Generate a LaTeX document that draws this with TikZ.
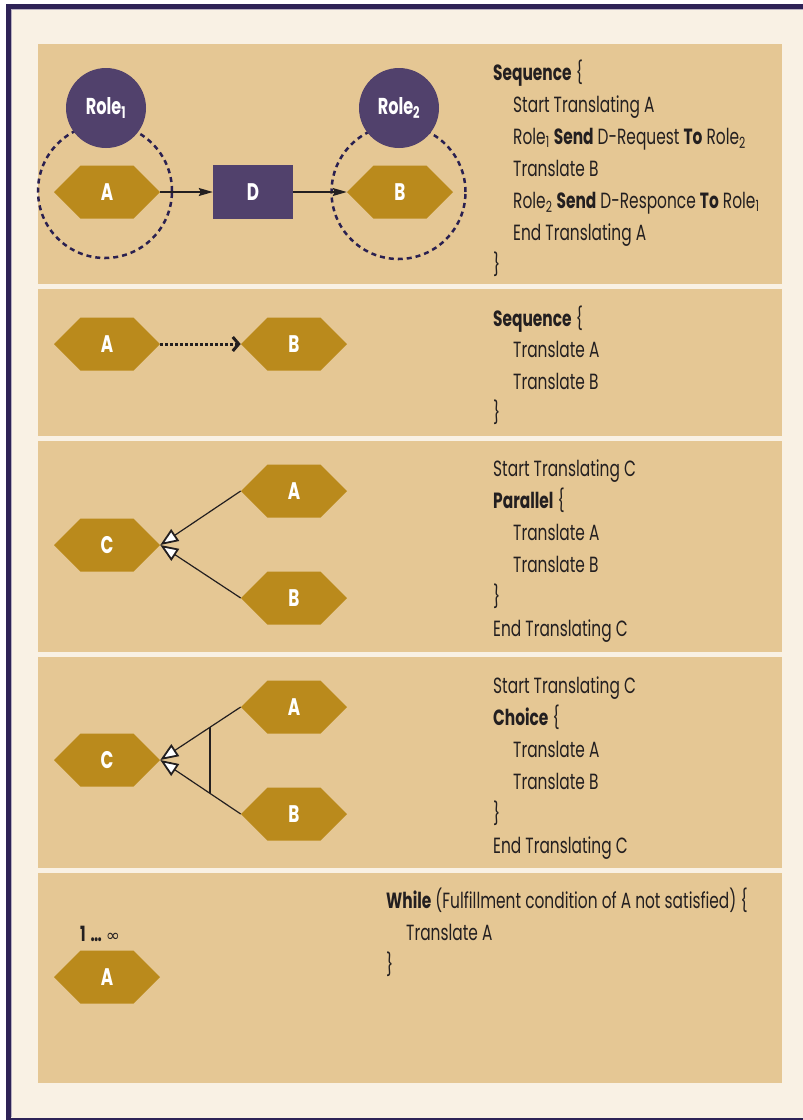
\documentclass[tikz,border=0pt]{standalone}
\usepackage{fontspec}
\setmainfont[FakeStretch=0.7]{Poppins}
\newfontfamily\symfont{DejaVu Sans}
\usetikzlibrary{arrows.meta,shapes.symbols,calc}
\definecolor{framec}{HTML}{2E2357}
\definecolor{cream}{HTML}{F9F1E4}
\definecolor{tan}{HTML}{E5C794}
\definecolor{gold}{HTML}{BA8A1C}
\definecolor{plum}{HTML}{51416C}
\definecolor{ink}{HTML}{231F20}
\definecolor{dashc}{HTML}{2A2050}
\definecolor{edgec}{HTML}{B8B0C0}
\tikzset{
  panel/.style={fill=tan},
  hexa/.style={shape=signal, signal to=east and west, signal pointer angle=90,
    fill=gold, minimum width=106pt, minimum height=53pt, inner sep=0pt,
    text=white, font=\fontsize{24}{24}\selectfont\bfseries},
  role/.style={circle, fill=plum, minimum size=80pt, inner sep=0pt,
    text=white, font=\fontsize{23}{23}\selectfont\bfseries},
  dbox/.style={rectangle, fill=plum, minimum width=80pt, minimum height=54pt,
    inner sep=0pt, text=white, font=\fontsize{24}{24}\selectfont\bfseries},
  group/.style={circle, draw=dashc, line width=2.5pt, dash pattern=on 5pt off 4pt,
    minimum size=134pt, inner sep=0pt},
  arr/.style={draw=ink, line width=1.3pt, -{Stealth[length=14pt,width=8pt,inset=2pt]}},
  dotarr/.style={draw=ink, line width=3pt, dash pattern=on 2.5pt off 2.5pt,
    -{Straight Barb[length=6pt,width=14pt,line width=3pt]}},
  triarr/.style={draw=ink, line width=1.2pt,
    -{Triangle[open, length=18pt, width=14pt, line width=1.8pt, fill=white]}},
  code/.style={anchor=base west, inner sep=0pt, text=ink,
    font=\fontsize{22}{22}\selectfont},
}
\begin{document}
\begin{tikzpicture}[x=1pt, y=-1pt]
\useasboundingbox (0,0) rectangle (803,1120);
\fill[white] (0,0) rectangle (803,1120);
\fill[framec] (6,4) rectangle (830,1125);
\fill[cream] (11,9) rectangle (825,1117.5);
\draw[edgec, line width=0.8pt] (11.4,1117) -- (11.4,9.4) -- (830,9.4);
% panels
\fill[panel] (38,44) rectangle (782,284);
\fill[panel] (38,289) rectangle (782,436);
\fill[panel] (38,441) rectangle (782,652);
\fill[panel] (38,657) rectangle (782,868);
\fill[panel] (38,873) rectangle (782,1083);

% ---- panel 1
\node[group] (g1) at (105,191) {};
\node[group] (g2) at (398.5,192) {};
\node[role] (r1) at (106,108) {Role\textsubscript{1}};
\node[role] (r2) at (399,108) {Role\textsubscript{2}};
\node[hexa] (a1) at (107,192) {A};
\node[dbox] (d1) at (253,192) {D};
\node[hexa] (b1) at (400,192) {B};
\draw[arr] (a1.east) -- (d1.west);
\draw[arr] (d1.east) -- (b1.west);

\node[code] (p1l1) at (493,80) {\textbf{Sequence} \{};
\node[code] (p1l2) at (513,112) {Start Translating A};
\node[code] (p1l3) at (513,144) {Role\textsubscript{1} \textbf{Send} D-Request \textbf{To} Role\textsubscript{2}};
\node[code] (p1l4) at (513,176) {Translate B};
\node[code] (p1l5) at (513,208) {Role\textsubscript{2} \textbf{Send} D-Responce \textbf{To} Role\textsubscript{1}};
\node[code] (p1l6) at (513,240) {End Translating A};
\node[code] (p1l7) at (493,272) {\}};

% ---- panel 2
\node[hexa] (a2) at (107,344) {A};
\node[hexa] (b2) at (294,344) {B};
\draw[dotarr] (a2.east) -- (b2.west);
\node[code] (p2l1) at (493,326) {\textbf{Sequence} \{};
\node[code] (p2l2) at (513,357) {Translate A};
\node[code] (p2l3) at (513,389) {Translate B};
\node[code] (p2l4) at (493,420) {\}};

% ---- panel 3
\node[hexa] (c3) at (107,545) {C};
\node[hexa] (a3) at (294,491) {A};
\node[hexa] (b3) at (294,598) {B};
\draw[triarr] (a3.west) -- (c3.east);
\draw[triarr] (b3.west) -- (c3.east);
\node[code] (p3l1) at (493,476) {Start Translating C};
\node[code] (p3l2) at (493,508) {\textbf{Parallel} \{};
\node[code] (p3l3) at (513,540) {Translate A};
\node[code] (p3l4) at (513,572) {Translate B};
\node[code] (p3l5) at (493,604) {\}};
\node[code] (p3l6) at (493,636) {End Translating C};

% ---- panel 4
\node[hexa] (c4) at (107,760) {C};
\node[hexa] (a4) at (294,707) {A};
\node[hexa] (b4) at (294,814) {B};
\draw[triarr] (a4.west) -- (c4.east);
\draw[triarr] (b4.west) -- (c4.east);
\coordinate (ch1) at ($(a4.west)!0.383!(c4.east)$);
\coordinate (ch2) at ($(b4.west)!0.383!(c4.east)$);
\draw[ink, line width=1.2pt] (ch1) -- (ch2);
\node[code] (p4l1) at (493,693) {Start Translating C};
\node[code] (p4l2) at (493,725) {\textbf{Choice} \{};
\node[code] (p4l3) at (513,757) {Translate A};
\node[code] (p4l4) at (513,789) {Translate B};
\node[code] (p4l5) at (493,821) {\}};
\node[code] (p4l6) at (493,853) {End Translating C};

% ---- panel 5
\node[hexa] (a5) at (107,977) {A};
\node[anchor=base, inner sep=0pt, text=ink, font=\fontsize{21}{21}\selectfont\bfseries] (m5) at (100,941) {1\hspace{5pt}…\hspace{4pt}{\symfont\mdseries\fontsize{17}{17}\selectfont ∞}};
\node[code] (p5l1) at (386,908) {\textbf{While} (Fulfillment condition of A not satisfied) \{};
\node[code] (p5l2) at (406,940) {Translate A};
\node[code] (p5l3) at (386,972) {\}};
\end{tikzpicture}
\end{document}
